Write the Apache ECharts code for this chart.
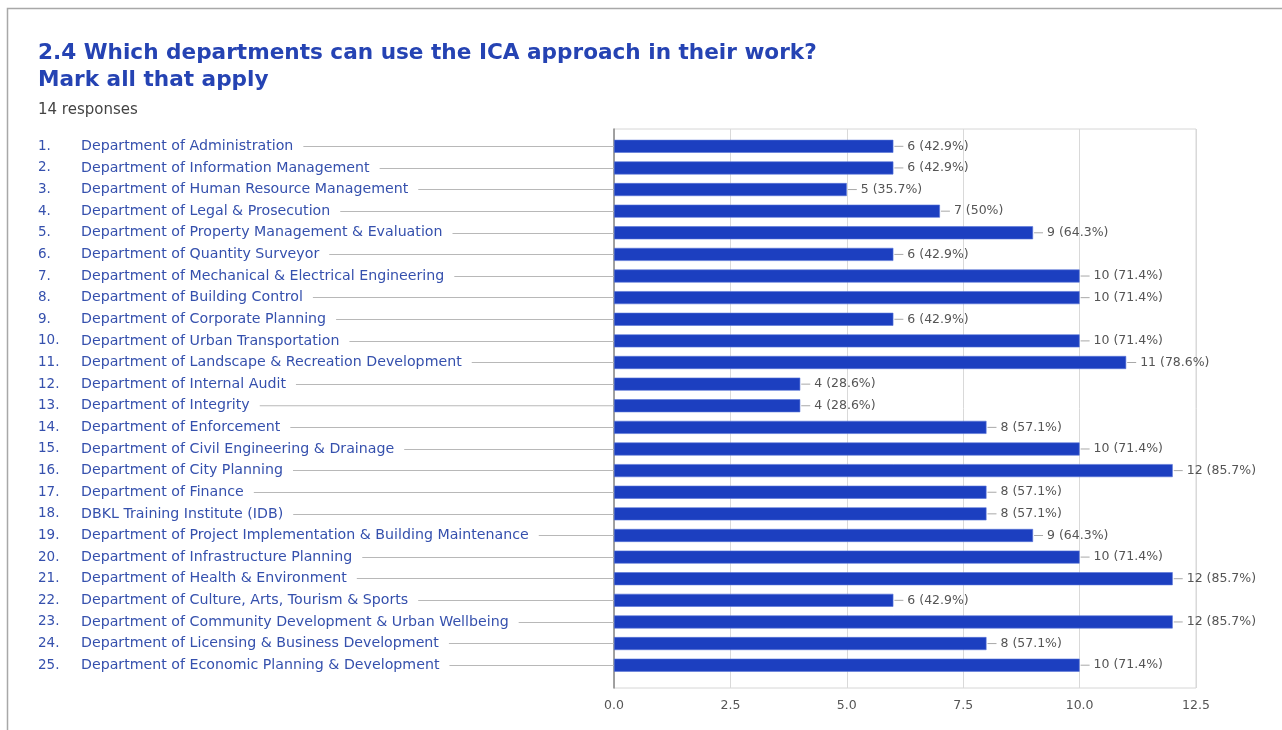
<!DOCTYPE html>
<html>
<head>
<meta charset="utf-8">
<title>ICA approach by department</title>
<script src="https://cdn.jsdelivr.net/npm/echarts@6/dist/echarts.min.js"></script>
<style>
  html, body { margin: 0; padding: 0; background: #ffffff; }
  #chart { width: 1282px; height: 730px; }
</style>
</head>
<body>
<div id="chart"></div>
<script>
// Survey question and response count
const titleText = '2.4 Which departments can use the ICA approach in their work?\nMark all that apply';
const responseText = '14 responses';
const totalResponses = 14;

// Departments, in survey order
const departments = [
  'Department of Administration',
  'Department of Information Management',
  'Department of Human Resource Management',
  'Department of Legal & Prosecution',
  'Department of Property Management & Evaluation',
  'Department of Quantity Surveyor',
  'Department of Mechanical & Electrical Engineering',
  'Department of Building Control',
  'Department of Corporate Planning',
  'Department of Urban Transportation',
  'Department of Landscape & Recreation Development',
  'Department of Internal Audit',
  'Department of Integrity',
  'Department of Enforcement',
  'Department of Civil Engineering & Drainage',
  'Department of City Planning',
  'Department of Finance',
  'DBKL Training Institute (IDB)',
  'Department of Project Implementation & Building Maintenance',
  'Department of Infrastructure Planning',
  'Department of Health & Environment',
  'Department of Culture, Arts, Tourism & Sports',
  'Department of Community Development & Urban Wellbeing',
  'Department of Licensing & Business Development',
  'Department of Economic Planning & Development'
];

// Number of respondents selecting each department
const counts = [6, 6, 5, 7, 9, 6, 10, 10, 6, 10, 11, 4, 4, 8, 10, 12, 8, 8, 9, 10, 12, 6, 12, 8, 10];

// Value-axis range and step
const axisMin = 0;
const axisMax = 12.5;
const axisStep = 2.5;

const FONT = '"DejaVu Sans", "Noto Sans", sans-serif';
const BAR_BLUE = '#1c3fc0';
const LABEL_BLUE = '#3550ad';

function pct(v) {
  const p = Math.round(v / totalResponses * 1000) / 10;
  return (p % 1 === 0 ? p.toFixed(0) : p.toFixed(1)) + '%';
}

const chart = echarts.init(document.getElementById('chart'), null, { renderer: 'canvas' });

const option = {
  backgroundColor: '#ffffff',
  animation: false,
  graphic: [{
    type: 'rect',
    shape: { x: 7.5, y: 8.5, width: 1400, height: 900 },
    style: { fill: 'none', stroke: '#a8a8a8', lineWidth: 1.5 },
    silent: true,
    z: -10
  }],
  title: [{
    text: titleText,
    left: 38,
    top: 40,
    padding: 0,
    textStyle: {
      fontFamily: FONT,
      fontSize: 21.6,
      fontWeight: 'bold',
      color: '#2543b3',
      lineHeight: 27
    }
  }, {
    text: responseText,
    left: 38,
    top: 103,
    padding: 0,
    textStyle: {
      fontFamily: FONT,
      fontSize: 15,
      fontWeight: 'normal',
      color: '#444444'
    }
  }],
  grid: [{
    // plot frame with vertical gridlines
    left: 614, right: 86, top: 129, bottom: 42,
    show: true, borderColor: '#d6d6d6', borderWidth: 1,
    containLabel: false
  }, {
    // bar band area
    left: 614, right: 86, top: 135.5, bottom: 54,
    containLabel: false
  }],
  xAxis: [{
    gridIndex: 0,
    type: 'value',
    min: axisMin, max: axisMax, interval: axisStep,
    axisLine: { show: false },
    axisTick: { show: false },
    splitLine: { show: true, lineStyle: { color: '#d9d9d9', width: 1 } },
    axisLabel: {
      margin: 11,
      color: '#555555',
      fontFamily: FONT,
      fontSize: 12.5,
      formatter: v => v.toFixed(1)
    }
  }, {
    gridIndex: 1,
    type: 'value',
    min: axisMin, max: axisMax,
    show: false
  }],
  yAxis: [{
    gridIndex: 0,
    type: 'value',
    min: 0, max: 1,
    axisLine: { show: true, lineStyle: { color: '#8a8a8a', width: 1.5 } },
    axisTick: { show: false },
    axisLabel: { show: false },
    splitLine: { show: false }
  }, {
    gridIndex: 1,
    type: 'category',
    inverse: true,
    data: departments,
    offset: 10,
    axisLine: { show: false },
    axisTick: {
      show: true,
      alignWithLabel: true,
      length: 530,
      lineStyle: { color: '#b8b8b8', width: 1 }
    },
    axisLabel: {
      align: 'left',
      margin: 566,
      backgroundColor: '#ffffff',
      padding: [0, 10, 0, 0],
      formatter: (name, idx) => '{n|' + (idx + 1) + '.}{t|' + name + '}',
      rich: {
        n: { width: 43, color: LABEL_BLUE, fontFamily: FONT, fontSize: 13.5 },
        t: { color: LABEL_BLUE, fontFamily: FONT, fontSize: 14.2 }
      }
    }
  }],
  series: [{
    type: 'bar',
    xAxisIndex: 1,
    yAxisIndex: 1,
    data: counts,
    barWidth: 13,
    itemStyle: { color: BAR_BLUE, borderColor: '#5873d6', borderWidth: 0.6 },
    label: {
      show: true,
      position: 'right',
      distance: 1,
      formatter: p => '{ln|}{v| ' + p.value + ' (' + pct(p.value) + ')}',
      rich: {
        ln: { width: 9, height: 1, backgroundColor: '#a8a8a8' },
        v: { color: '#555555', fontFamily: FONT, fontSize: 12.5 }
      }
    }
  }]
};

chart.setOption(option);
</script>
</body>
</html>
